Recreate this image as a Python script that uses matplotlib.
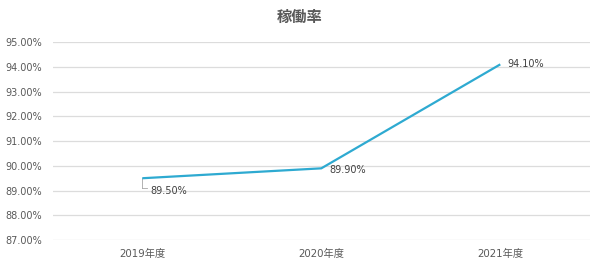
import matplotlib.pyplot as plt
import matplotlib.ticker as mticker

plt.rcParams['font.family'] = ['DejaVu Sans', 'Noto Sans CJK JP']

years = ['2019年度', '2020年度', '2021年度']
rate = [89.50, 89.90, 94.10]
title = '稼働率'

fig = plt.figure(figsize=(6, 2.68), dpi=100)
ax = fig.add_axes([0.088, 0.104, 0.895, 0.739])

x = list(range(len(years)))
ax.plot(x, rate, color='#2eaad1', lw=1.6, solid_capstyle='butt', zorder=3)

ax.set_xlim(-0.5, 2.5)
ax.set_ylim(87, 95)
ax.yaxis.set_major_locator(mticker.MultipleLocator(1))
ax.yaxis.set_major_formatter(mticker.FuncFormatter(lambda v, p: f'{v:.2f}%'))
ax.set_xticks(x)
ax.set_xticklabels(years)
ax.grid(axis='y', color='#dcdcdc', lw=0.9)
ax.set_axisbelow(True)
for s in ax.spines.values():
    s.set_visible(False)
ax.tick_params(length=0, labelsize=7, colors='#595959')
ax.tick_params(axis='x', labelsize=7.4)
ax.tick_params(axis='y', pad=8)
ax.tick_params(axis='x', pad=6)

# data labels
lab = dict(fontsize=7, color='#404040', va='center', ha='left', textcoords='offset points')
ax.annotate(f'{rate[0]:.2f}%', (x[0], rate[0]), xytext=(6, -9), **lab)
ax.plot([x[0], x[0]], [rate[0], rate[0] - 0.4], color='#a6a6a6', lw=0.6)
ax.plot([x[0], x[0] + 0.025], [rate[0] - 0.4, rate[0] - 0.4], color='#a6a6a6', lw=0.6)
ax.annotate(f'{rate[1]:.2f}%', (x[1], rate[1]), xytext=(6, -1), **lab)
ax.annotate(f'{rate[2]:.2f}%', (x[2], rate[2]), xytext=(5, 0), **lab)

fig.text(0.5, 0.935, title, ha='center', va='center', fontsize=11, fontweight='bold',
         color='#595959', family=['Noto Sans CJK JP'])

fig.savefig('out.png', dpi=100)
